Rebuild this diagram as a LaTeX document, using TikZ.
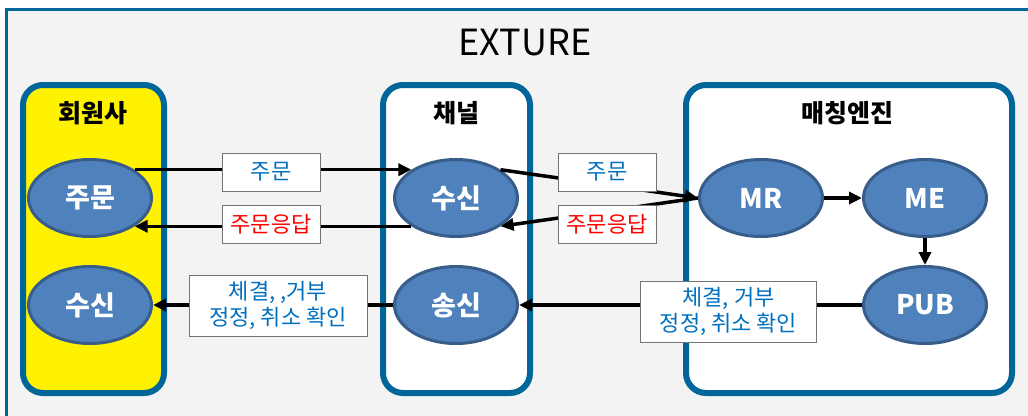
\documentclass[tikz,border=0pt]{standalone}
\usepackage{fontspec}
\newfontfamily\kr{Noto Sans CJK KR}
\usepackage{tikz}
\usetikzlibrary{shapes.geometric,arrows.meta}

\definecolor{frameblue}{RGB}{0,102,153}
\definecolor{procfill}{RGB}{79,129,189}
\definecolor{procedge}{RGB}{56,93,138}
\definecolor{msgblue}{RGB}{0,112,192}
\definecolor{pagegray}{RGB}{243,243,243}

\begin{document}
\begin{tikzpicture}[
        x=1pt, y=-1pt,
        group/.style={
            draw=frameblue,
            line width=6pt,
            rounded corners=20pt,
            minimum height=308pt
        },
        grouptitle/.style={
            font=\kr\bfseries\fontsize{25pt}{28pt}\selectfont
        },
        proc/.style={
            ellipse,
            fill=procfill,
            draw=procedge,
            line width=3pt,
            minimum width=123pt, minimum height=77pt,
            text=white,
            font=\kr\bfseries\fontsize{27pt}{30pt}\selectfont
        },
        msg/.style={
            draw=black!55,
            fill=white,
            line width=0.8pt,
            text=msgblue,
            align=center,
            inner sep=2pt,
            font=\kr\fontsize{22pt}{26pt}\selectfont
        },
        flow/.style={
            line width=3.5pt,
            -{Triangle[length=13pt,width=12pt]}
        }
    ]
            \useasboundingbox (0,0) rectangle (1028,415);
            \fill[white] (0,0) rectangle (1028,415);
            \fill[pagegray] (6,9) rectangle (1040,430);
            \draw[frameblue, line width=3pt] (6,430) -- (6,9) -- (1040,9);

            \node[font=\kr\fontsize{36pt}{40pt}\selectfont] (title) at (525,43) {EXTURE};

            % groups
            \node[group, fill=yellow, minimum width=141pt] (member) at (93.5,239) {};
            \node[group, fill=white, minimum width=147pt] (channel) at (456.5,239) {};
            \node[group, fill=white, minimum width=326pt] (engine) at (849,239) {};

            \node[grouptitle] (membertitle) at (93,113) {회원사};
            \node[grouptitle] (channeltitle) at (456,113) {채널};
            \node[grouptitle] (enginetitle) at (847,113) {매칭엔진};

            % processes
            \node[proc] (order) at (90,198) {주문};
            \node[proc] (mrecv) at (90,305) {수신};
            \node[proc] (crecv) at (456,198) {수신};
            \node[proc] (csend) at (456,305) {송신};
            \node[proc] (mr) at (761,198) {MR};
            \node[proc] (me) at (925,198) {ME};
            \node[proc] (pub) at (925,305) {PUB};

            \draw[flow] (order.north east) -- (crecv.north west);
            \draw[flow] (crecv.south west) -- (order.south east);
            \draw[flow] (crecv.north east) -- (mr.west);
            \draw[flow] (mr.west) -- (crecv.south east);
            \draw[flow] (mr.east) -- (me.west);
            \draw[flow] (me.south) -- (pub.north);
            \draw[flow] (pub.west) -- (csend.east);
            \draw[flow] (csend.west) -- (mrecv.east);

            % messages
            \node[msg, minimum width=98pt, minimum height=38pt] (ordmsg) at (271,172) {주문};
            \node[msg, minimum width=98pt, minimum height=38pt, text=red] (ackmsg) at (271,224) {주문응답};
            \node[msg, minimum width=98pt, minimum height=38pt] (ordmsg2) at (607,172) {주문};
            \node[msg, minimum width=98pt, minimum height=38pt, text=red] (ackmsg2) at (607,224) {주문응답};
            \node[msg, minimum width=178pt, minimum height=61pt] (fillmsg) at (278,305.5) {체결, ,거부\\정정, 취소 확인};
            \node[msg, minimum width=176pt, minimum height=61pt] (fillmsg2) at (728.5,311.5) {체결, 거부\\정정, 취소 확인};

        \end{tikzpicture}
\end{document}
